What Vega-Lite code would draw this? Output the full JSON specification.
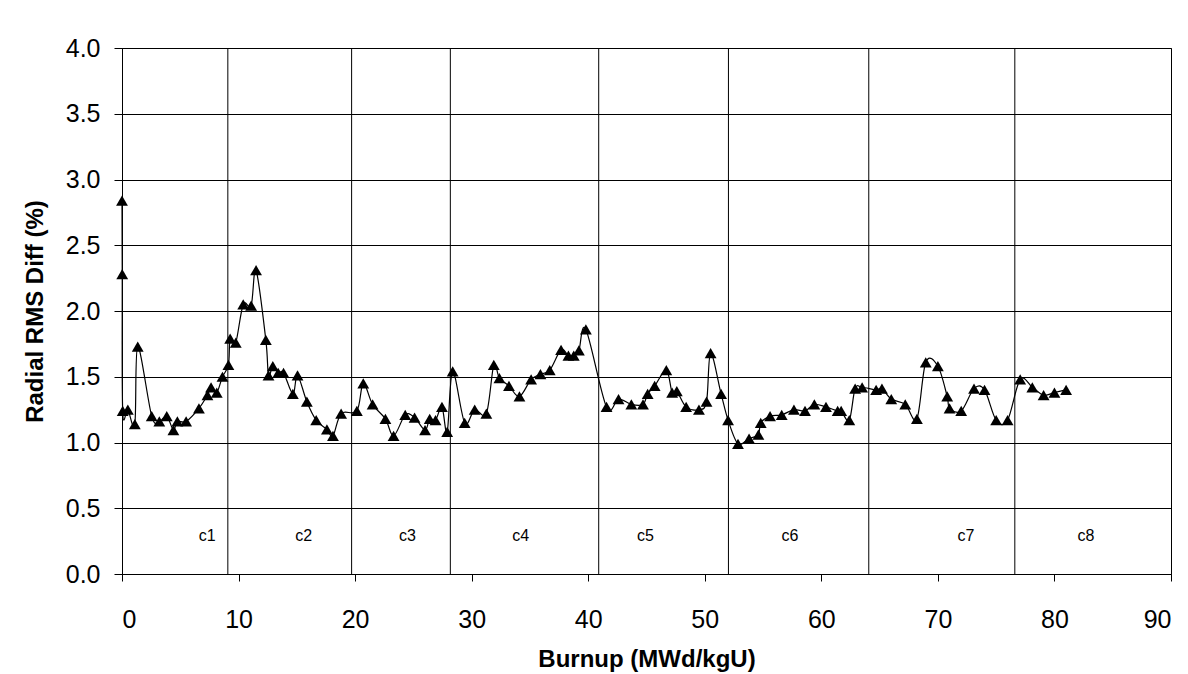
{
  "$schema": "https://vega.github.io/schema/vega-lite/v6.json",
  "width": 1049,
  "height": 526,
  "autosize": "none",
  "padding": {"left": 122, "top": 48, "right": 17, "bottom": 100},
  "background": "white",
  "config": {
    "font": "Liberation Sans",
    "view": {"stroke": "black", "strokeWidth": 1}
  },
  "datasets": {
    "pts": [
      {"i": 1, "burnup": 0.0, "rms": 2.84},
      {"i": 2, "burnup": 0.02, "rms": 2.28},
      {"i": 3, "burnup": 0.06, "rms": 1.24},
      {"i": 4, "burnup": 0.5, "rms": 1.25},
      {"i": 5, "burnup": 1.1, "rms": 1.14},
      {"i": 6, "burnup": 1.35, "rms": 1.73},
      {"i": 7, "burnup": 2.55, "rms": 1.2},
      {"i": 8, "burnup": 3.2, "rms": 1.16},
      {"i": 9, "burnup": 3.84, "rms": 1.2},
      {"i": 10, "burnup": 4.41, "rms": 1.095},
      {"i": 11, "burnup": 4.75, "rms": 1.16},
      {"i": 12, "burnup": 5.5, "rms": 1.16},
      {"i": 13, "burnup": 6.6, "rms": 1.26},
      {"i": 14, "burnup": 7.33, "rms": 1.36},
      {"i": 15, "burnup": 7.64, "rms": 1.42},
      {"i": 16, "burnup": 8.13, "rms": 1.38},
      {"i": 17, "burnup": 8.62, "rms": 1.5},
      {"i": 18, "burnup": 9.13, "rms": 1.59},
      {"i": 19, "burnup": 9.28, "rms": 1.79},
      {"i": 20, "burnup": 9.76, "rms": 1.76},
      {"i": 21, "burnup": 10.4, "rms": 2.05},
      {"i": 22, "burnup": 11.08, "rms": 2.04},
      {"i": 23, "burnup": 11.5, "rms": 2.31},
      {"i": 24, "burnup": 12.34, "rms": 1.78},
      {"i": 25, "burnup": 12.57, "rms": 1.51},
      {"i": 26, "burnup": 12.94, "rms": 1.58},
      {"i": 27, "burnup": 13.4, "rms": 1.53},
      {"i": 28, "burnup": 13.86, "rms": 1.53},
      {"i": 29, "burnup": 14.66, "rms": 1.37},
      {"i": 30, "burnup": 15.06, "rms": 1.51},
      {"i": 31, "burnup": 15.86, "rms": 1.31},
      {"i": 32, "burnup": 16.66, "rms": 1.17},
      {"i": 33, "burnup": 17.58, "rms": 1.1},
      {"i": 34, "burnup": 18.1, "rms": 1.05},
      {"i": 35, "burnup": 18.8, "rms": 1.22},
      {"i": 36, "burnup": 20.15, "rms": 1.24},
      {"i": 37, "burnup": 20.7, "rms": 1.45},
      {"i": 38, "burnup": 21.5, "rms": 1.29},
      {"i": 39, "burnup": 22.6, "rms": 1.18},
      {"i": 40, "burnup": 23.3, "rms": 1.05},
      {"i": 41, "burnup": 24.3, "rms": 1.21},
      {"i": 42, "burnup": 25.1, "rms": 1.19},
      {"i": 43, "burnup": 26.0, "rms": 1.095},
      {"i": 44, "burnup": 26.4, "rms": 1.18},
      {"i": 45, "burnup": 26.9, "rms": 1.17},
      {"i": 46, "burnup": 27.45, "rms": 1.27},
      {"i": 47, "burnup": 27.9, "rms": 1.08},
      {"i": 48, "burnup": 28.37, "rms": 1.54},
      {"i": 49, "burnup": 29.4, "rms": 1.15},
      {"i": 50, "burnup": 30.26, "rms": 1.25},
      {"i": 51, "burnup": 31.26, "rms": 1.22},
      {"i": 52, "burnup": 31.9, "rms": 1.59},
      {"i": 53, "burnup": 32.38, "rms": 1.49},
      {"i": 54, "burnup": 33.2, "rms": 1.43},
      {"i": 55, "burnup": 34.1, "rms": 1.35},
      {"i": 56, "burnup": 35.1, "rms": 1.48},
      {"i": 57, "burnup": 35.9, "rms": 1.52},
      {"i": 58, "burnup": 36.7, "rms": 1.55},
      {"i": 59, "burnup": 37.67, "rms": 1.705},
      {"i": 60, "burnup": 38.3, "rms": 1.66},
      {"i": 61, "burnup": 38.76, "rms": 1.66},
      {"i": 62, "burnup": 39.2, "rms": 1.7},
      {"i": 63, "burnup": 39.8, "rms": 1.86},
      {"i": 64, "burnup": 41.57, "rms": 1.27},
      {"i": 65, "burnup": 42.6, "rms": 1.33},
      {"i": 66, "burnup": 43.7, "rms": 1.29},
      {"i": 67, "burnup": 44.7, "rms": 1.29},
      {"i": 68, "burnup": 45.1, "rms": 1.37},
      {"i": 69, "burnup": 45.7, "rms": 1.43},
      {"i": 70, "burnup": 46.7, "rms": 1.55},
      {"i": 71, "burnup": 47.2, "rms": 1.38},
      {"i": 72, "burnup": 47.6, "rms": 1.39},
      {"i": 73, "burnup": 48.4, "rms": 1.27},
      {"i": 74, "burnup": 49.5, "rms": 1.25},
      {"i": 75, "burnup": 50.15, "rms": 1.31},
      {"i": 76, "burnup": 50.5, "rms": 1.68},
      {"i": 77, "burnup": 51.4, "rms": 1.37},
      {"i": 78, "burnup": 52.0, "rms": 1.17},
      {"i": 79, "burnup": 52.85, "rms": 0.99},
      {"i": 80, "burnup": 53.8, "rms": 1.03},
      {"i": 81, "burnup": 54.6, "rms": 1.06},
      {"i": 82, "burnup": 54.8, "rms": 1.15},
      {"i": 83, "burnup": 55.6, "rms": 1.2},
      {"i": 84, "burnup": 56.6, "rms": 1.21},
      {"i": 85, "burnup": 57.65, "rms": 1.25},
      {"i": 86, "burnup": 58.6, "rms": 1.24},
      {"i": 87, "burnup": 59.4, "rms": 1.29},
      {"i": 88, "burnup": 60.4, "rms": 1.27},
      {"i": 89, "burnup": 61.4, "rms": 1.24},
      {"i": 90, "burnup": 61.7, "rms": 1.24},
      {"i": 91, "burnup": 62.4, "rms": 1.17},
      {"i": 92, "burnup": 62.9, "rms": 1.41},
      {"i": 93, "burnup": 63.5, "rms": 1.42},
      {"i": 94, "burnup": 64.7, "rms": 1.4},
      {"i": 95, "burnup": 65.2, "rms": 1.41},
      {"i": 96, "burnup": 66.0, "rms": 1.33},
      {"i": 97, "burnup": 67.2, "rms": 1.29},
      {"i": 98, "burnup": 68.2, "rms": 1.18},
      {"i": 99, "burnup": 68.96, "rms": 1.61},
      {"i": 100, "burnup": 70.0, "rms": 1.58},
      {"i": 101, "burnup": 70.8, "rms": 1.35},
      {"i": 102, "burnup": 71.0, "rms": 1.26},
      {"i": 103, "burnup": 72.0, "rms": 1.24},
      {"i": 104, "burnup": 73.1, "rms": 1.41},
      {"i": 105, "burnup": 74.0, "rms": 1.4},
      {"i": 106, "burnup": 75.0, "rms": 1.17},
      {"i": 107, "burnup": 75.98, "rms": 1.17},
      {"i": 108, "burnup": 77.06, "rms": 1.48},
      {"i": 109, "burnup": 78.1, "rms": 1.42},
      {"i": 110, "burnup": 79.07, "rms": 1.36},
      {"i": 111, "burnup": 80.0, "rms": 1.38},
      {"i": 112, "burnup": 81.0, "rms": 1.4}
    ],
    "cycles": [
      {"start": 9.08, "label": "c1", "lx": 7.3, "ly": 0.29},
      {"start": 19.7, "label": "c2", "lx": 15.6, "ly": 0.29},
      {"start": 28.17, "label": "c3", "lx": 24.5, "ly": 0.29},
      {"start": 40.9, "label": "c4", "lx": 34.2, "ly": 0.29},
      {"start": 52.03, "label": "c5", "lx": 44.9, "ly": 0.29},
      {"start": 64.07, "label": "c6", "lx": 57.3, "ly": 0.29},
      {"start": 76.6, "label": "c7", "lx": 72.4, "ly": 0.29},
      {"start": null, "label": "c8", "lx": 82.7, "ly": 0.29}
    ]
  },
  "layer": [
    {
      "data": {"name": "cycles"},
      "transform": [{"filter": "datum.start != null"}],
      "mark": {"type": "rule", "color": "black", "strokeWidth": 1},
      "encoding": {
        "x": {"field": "start", "type": "quantitative", "scale": {"domain": [0, 90]}}
      }
    },
    {
      "data": {"name": "cycles"},
      "mark": {"type": "text", "fontSize": 16, "color": "black", "font": "Liberation Sans"},
      "encoding": {
        "x": {"field": "lx", "type": "quantitative"},
        "y": {"field": "ly", "type": "quantitative"},
        "text": {"field": "label"}
      }
    },
    {
      "data": {"name": "pts"},
      "mark": {"type": "line", "color": "black", "strokeWidth": 1.2, "interpolate": "cardinal"},
      "encoding": {
        "x": {"field": "burnup", "type": "quantitative"},
        "y": {"field": "rms", "type": "quantitative"},
        "order": {"field": "i", "type": "quantitative"}
      }
    },
    {
      "data": {"name": "pts"},
      "mark": {"type": "point", "shape": "triangle-up", "filled": true, "color": "black", "size": 140, "opacity": 1},
      "encoding": {
        "x": {
          "field": "burnup", "type": "quantitative",
          "scale": {"domain": [0, 90], "nice": false, "zero": true},
          "axis": {
            "title": "Burnup (MWd/kgU)", "values": [0,10,20,30,40,50,60,70,80,90],
            "grid": false, "domainColor": "black", "tickColor": "black", "tickSize": 7,
            "labelFontSize": 25, "labelColor": "black", "labelPadding": 26,
            "titleFontSize": 24, "titleFontWeight": "bold", "titleColor": "black", "titlePadding": 15
          }
        },
        "y": {
          "field": "rms", "type": "quantitative",
          "scale": {"domain": [0, 4], "nice": false},
          "axis": {
            "title": "Radial RMS Diff (%)", "values": [0,0.5,1,1.5,2,2.5,3,3.5,4], "format": ".1f",
            "grid": true, "gridColor": "black", "gridOpacity": 1, "gridWidth": 1,
            "domainColor": "black", "tickColor": "black", "tickSize": 8,
            "labelFontSize": 25, "labelColor": "black", "labelPadding": 14,
            "titleFontSize": 24, "titleFontWeight": "bold", "titleColor": "black", "titlePadding": 18
          }
        }
      }
    }
  ]
}
